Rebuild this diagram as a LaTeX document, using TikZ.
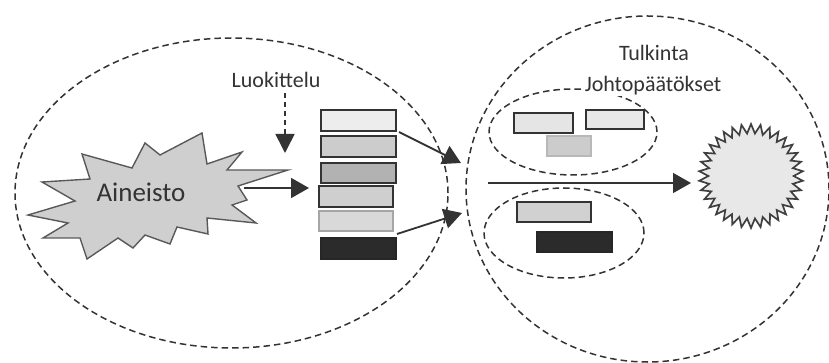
\documentclass[tikz,border=0pt]{standalone}
\usepackage{fontspec}
\setmainfont{Carlito}
\usetikzlibrary{arrows.meta,shapes.geometric}
\definecolor{ink}{HTML}{333333}
\definecolor{txt}{HTML}{333333}
\tikzset{
  dashell/.style={ellipse, draw=ink, line width=1.5pt, dash pattern=on 6.5pt off 4pt, inner sep=0pt},
  bar/.style={draw=ink, line width=1.4pt, inner sep=0pt},
  arr/.style={draw=ink, line width=1.8pt, -{Triangle[length=18pt,width=20pt]}},
  dasharr/.style={draw=ink, line width=1.6pt, dash pattern=on 5pt off 4pt, -{Triangle[length=19pt,width=19pt]}},
  lbl/.style={text=txt, font=\fontsize{22pt}{24pt}\selectfont, inner sep=1pt},
}
\begin{document}
\begin{tikzpicture}[x=1pt,y=-1pt]
\useasboundingbox (0,0) rectangle (829,363);

% outer dashed regions
\node[dashell, minimum width=433pt, minimum height=310pt] (left) at (231.5,193) {};
\node[dashell, minimum width=363pt, minimum height=346pt] (right) at (647.5,189) {};
\node[dashell, minimum width=168pt, minimum height=86pt] (upper) at (573,132) {};
\node[dashell, minimum width=160pt, minimum height=90pt] (lower) at (564,233) {};

% the raw material burst
\filldraw[fill=black!19, draw=black!65, line width=1.4pt, line join=miter]
  (28,215) -- (75,201) -- (42,182) -- (90,179) -- (82,154) -- (132,168)
  -- (145,143) -- (160,155) -- (202,133) -- (207,164) -- (242,152)
  -- (227,170) -- (288,170) -- (238,186) -- (247,200) -- (232,205)
  -- (256,223) -- (207,218) -- (208,234) -- (177,227) -- (170,244)
  -- (145,235) -- (133,248) -- (118,238) -- (87,259) -- (80,238)
  -- (43,238) -- (68,223) -- cycle;
\node[text=txt, font=\fontsize{27pt}{29pt}\selectfont] (aineisto) at (141,192) {Aineisto};

% classified stack
\node[bar, fill=black!7,  minimum width=75pt, minimum height=21pt] (r1) at (358.5,120.5) {};
\node[bar, fill=black!20, minimum width=75pt, minimum height=21pt] (r2) at (358.5,146.5) {};
\node[bar, fill=black!30, minimum width=75pt, minimum height=20pt] (r3) at (358.5,173) {};
\node[bar, fill=black!19, minimum width=74pt, minimum height=21pt] (r4) at (356,196.5) {};
\node[bar, fill=black!15, draw=black!35, minimum width=74pt, minimum height=20pt] (r5) at (356,221) {};
\node[bar, fill=black!83, draw=black!85, minimum width=75pt, minimum height=21pt] (r6) at (358.5,248.5) {};

% interpreted groups
\node[bar, fill=black!10, minimum width=59pt, minimum height=20pt] (q1) at (543.5,123) {};
\node[bar, fill=black!9,  minimum width=58pt, minimum height=19pt] (q2) at (615,119.5) {};
\node[bar, fill=black!20, draw=black!28, minimum width=44pt, minimum height=20pt] (q3) at (569,146) {};
\node[bar, fill=black!18, minimum width=74pt, minimum height=20pt] (q4) at (554,212) {};
\node[bar, fill=black!83, draw=black!85, minimum width=75pt, minimum height=20pt] (q5) at (574.5,242) {};

% labels
\node[lbl] (luok) at (276,80) {Luokittelu};
\node[lbl] (tulk) at (654,53) {Tulkinta};
\node[lbl, fill=white] (joht) at (653,86) {Johtopäätökset};

% result: serrated disc
\node[star, star points=34, star point ratio=1.22, minimum size=104pt, inner sep=0pt,
      fill=black!9, draw=black!75, line width=1.7pt] (sun) at (751,176) {};

% connector end points
\coordinate (aout) at (244,188);
\coordinate (ain) at (309,188);
\coordinate (s1) at (399,132);
\coordinate (t1) at (461,163);
\coordinate (s2) at (397,234);
\coordinate (t2) at (462,213);
\coordinate (m0) at (488,183);
\coordinate (m1) at (691,183);
\coordinate (l0) at (285,93);
\coordinate (l1) at (285,153);

\draw[arr] (aout) -- (ain);
\draw[arr] (s1) -- (t1);
\draw[arr] (s2) -- (t2);
\draw[arr, line width=1.5pt] (m0) -- (m1);
\draw[dasharr] (l0) -- (l1);
\end{tikzpicture}
\end{document}
